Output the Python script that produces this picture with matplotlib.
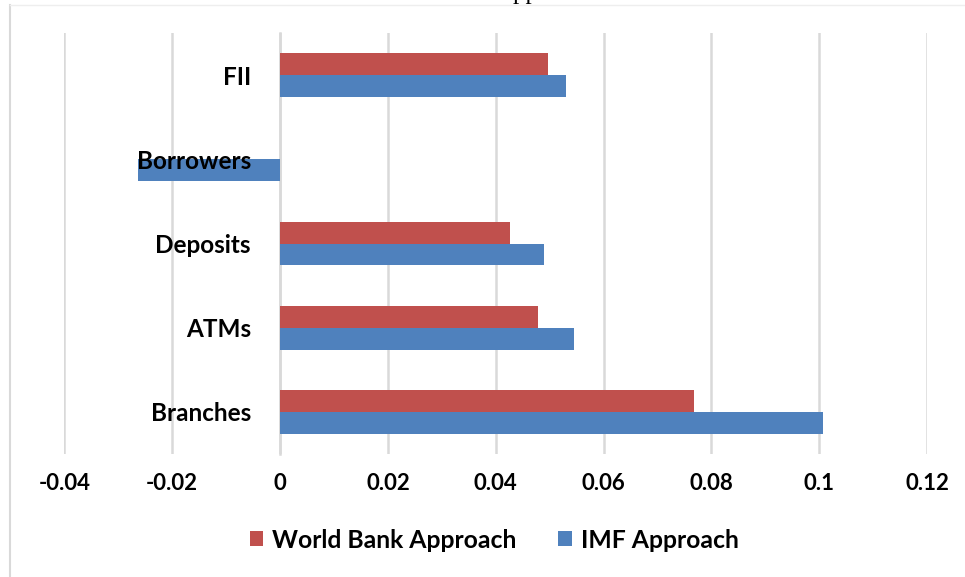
import matplotlib
matplotlib.use("Agg")
import matplotlib.pyplot as plt
import numpy as np

# Indicator categories, listed bottom to top on the chart
categories = ["Branches", "ATMs", "Deposits", "Borrowers", "FII"]
world_bank = [0.0768, 0.0479, 0.0427, 0.0, 0.0497]
imf = [0.1007, 0.0545, 0.0490, -0.0264, 0.0531]
x_ticks = [-0.04, -0.02, 0, 0.02, 0.04, 0.06, 0.08, 0.1, 0.12]
x_tick_labels = ["-0.04", "-0.02", "0", "0.02", "0.04", "0.06", "0.08", "0.1", "0.12"]

RED = "#C0504D"
BLUE = "#4F81BD"
GRID = "#D9D9D9"
FONT = "Lato"

W, H = 965, 577
fig = plt.figure(figsize=(W / 100, H / 100), dpi=100)

# chart-area frame (left and top edges visible)
fig.add_artist(plt.Line2D([10 / W, 10 / W], [0, 1 - 5 / H], transform=fig.transFigure,
                          color=GRID, lw=1.5))
fig.add_artist(plt.Line2D([10 / W, 1], [1 - 5 / H, 1 - 5 / H], transform=fig.transFigure,
                          color="#EEEEEE", lw=1.0))

# title, mostly above the visible area
fig.text(496 / W, 1 + 1.5 / H, "Approach", family="Liberation Serif", fontsize=18,
         ha="left", va="baseline")

ax = fig.add_axes([64.4 / W, 1 - 454 / H, (927 - 64.4) / W, (454 - 33) / H])

y = np.arange(len(categories))
h = 0.261
ax.barh(y + h / 2, world_bank, height=h, color=RED, label="World Bank Approach", zorder=1)
ax.barh(y - h / 2, imf, height=h, color=BLUE, label="IMF Approach", zorder=1)

ax.set_xlim(-0.04, 0.12)
ax.set_ylim(-0.5, len(categories) - 0.5)
ax.set_xticks(x_ticks)
ax.set_xticklabels(x_tick_labels)
ax.set_yticks(y)
ax.set_yticklabels(categories)

# vertical gridlines behind the bars
for xv in x_ticks:
    ax.axvline(xv, color=GRID, lw=1.8, zorder=0.3)

# category labels sit next to the vertical axis at zero, drawn over the bars
ax.spines["left"].set_position(("data", 0))
ax.spines["left"].set_color(GRID)
ax.spines["left"].set_linewidth(1.8)
ax.spines["left"].set_zorder(0.5)
ax.yaxis.set_zorder(3)
ax.xaxis.set_zorder(3)

for t in ax.get_xticklabels():
    t.set_fontfamily(FONT)
    t.set_fontweight("bold")
    t.set_fontsize(16)
for t in ax.get_yticklabels():
    t.set_fontfamily(FONT)
    t.set_fontweight("bold")
    t.set_fontsize(17.5)

ax.tick_params(axis="x", length=0, pad=14)
ax.tick_params(axis="y", length=0, pad=21)
for name in ["top", "right", "bottom"]:
    ax.spines[name].set_visible(False)

handles, labels = ax.get_legend_handles_labels()
leg = fig.legend(handles, labels, loc="center", bbox_to_anchor=(494 / W, 1 - 540 / H),
                 ncol=2, frameon=False,
                 prop={"family": FONT, "weight": "bold", "size": 17.8},
                 handlelength=0.55, handleheight=0.55, handletextpad=0.35,
                 columnspacing=1.7)

fig.savefig("out.png", dpi=100)
